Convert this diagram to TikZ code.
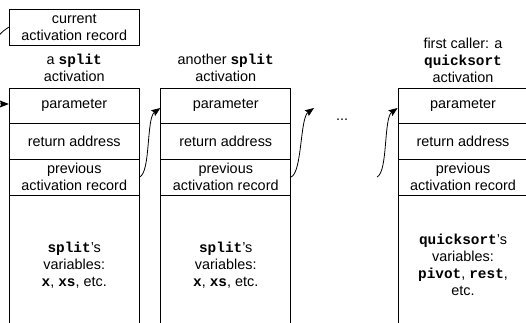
\documentclass[tikz,border=0pt]{standalone}
\usepackage{fontspec}
\setmainfont{Liberation Sans}
\setmonofont{Liberation Mono}
\usetikzlibrary{arrows.meta}
\newcommand\cw[1]{\texttt{\textbf{#1}}}
\newcommand\fs{\fontsize{14.4}{17}\selectfont}
\begin{document}
\begin{tikzpicture}[x=1pt,y=-1pt,
  cell/.style={draw, line width=0.8pt, minimum width=130pt, inner sep=0pt, align=center, font=\fs},
  lbl/.style={align=center, inner sep=0pt, font=\fs},
  arr/.style={line width=0.8pt, -{Stealth[length=9pt,width=7pt,inset=1.5pt]}},
  lnk/.style={line width=0.8pt}]
\clip (0,0) rectangle (526,322);
% current activation record
\node[cell, minimum width=129.5pt, minimum height=36pt] (cur) at (74.25,27) {current\\activation record};
% column labels
\node[lbl] (l1) at (74.25,68) {a \cw{split}\\activation};
\node[lbl] (l2) at (225.75,68) {another \cw{split}\\activation};
\node[lbl] (l3) at (463,60) {first caller: a\\\cw{quicksort}\\activation};
% column 1
\node[cell, minimum height=35pt] (p1) at (74.25,105.5) {parameter};
\node[cell, minimum height=36pt] (r1) at (74.25,141) {return address};
\node[cell, minimum height=36pt] (v1) at (74.25,177) {previous\\activation record};
\node[cell, minimum height=140pt] (b1) at (74.25,265) {\cw{split}'s\\variables:\\\cw{x}, \cw{xs}, etc.};
% column 2
\node[cell, minimum height=35pt] (p2) at (225.75,105.5) {parameter};
\node[cell, minimum height=36pt] (r2) at (225.75,141) {return address};
\node[cell, minimum height=36pt] (v2) at (225.75,177) {previous\\activation record};
\node[cell, minimum height=140pt] (b2) at (225.75,265) {\cw{split}'s\\variables:\\\cw{x}, \cw{xs}, etc.};
% column 3
\node[cell, minimum height=35pt] (p3) at (463,105.5) {parameter};
\node[cell, minimum height=36pt] (r3) at (463,141) {return address};
\node[cell, minimum height=36pt] (v3) at (463,177) {previous\\activation record};
\node[cell, minimum height=140pt] (b3) at (463,265) {\cw{quicksort}'s\\variables:\\\cw{pivot}, \cw{rest},\\etc.};
% ellipsis
\node[lbl, anchor=base] (dots) at (342,120) {...};
% free ends
\coordinate (e4) at (314,108);
\coordinate (s3) at (377,177);
% connectors
\draw[arr] (cur.west) .. controls (-22,45) and (-22,104) .. ([yshift=1.5pt]p1.west);
\draw[arr] (v1.east) .. controls +(11,-5) and +(-14,10) .. ([yshift=-2.5pt]p2.west);
\draw[arr] (v2.east) .. controls +(11,-5) and +(-14,10) .. (e4);
\draw[arr] (s3) .. controls +(11,-5) and +(-14,10) .. ([yshift=-2.5pt]p3.west);
\end{tikzpicture}
\end{document}
